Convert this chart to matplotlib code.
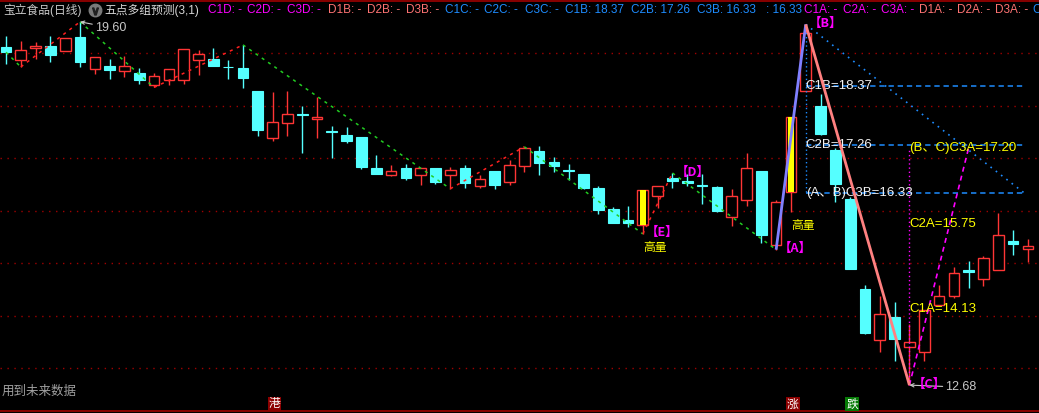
import numpy as np
import matplotlib.pyplot as plt
import matplotlib.transforms as mtransforms
from matplotlib.patches import Rectangle

plt.rcParams['font.family'] = ['Liberation Sans', 'Noto Sans CJK SC', 'DejaVu Sans']

# daily bars
opens = [19.12, 18.88, 19.11, 19.14, 19.05, 19.31, 18.71, 18.76, 18.67, 18.62,
         18.40, 18.50, 18.50, 18.88, 18.89, 18.74, 18.72, 18.28, 17.39, 17.68,
         17.84, 17.74, 17.52, 17.44, 17.41, 16.82, 16.69, 16.82, 16.69, 16.82,
         16.69, 16.82, 16.48, 16.76, 16.55, 16.86, 17.14, 16.93, 16.78, 16.70,
         16.43, 16.03, 15.82, 15.73, 16.28, 16.62, 16.56, 16.49, 16.45, 15.89,
         16.20, 16.76, 15.35, 16.35, 18.29, 18.00, 17.16, 16.22, 14.51, 13.53,
         13.97, 13.40, 13.31, 14.20, 14.37, 14.88, 14.71, 14.87, 15.42, 15.27]
closes = [19.02, 19.06, 19.14, 18.97, 19.29, 18.83, 18.93, 18.68, 18.76, 18.49,
          18.57, 18.70, 19.08, 18.99, 18.76, 18.73, 18.53, 17.54, 17.69, 17.84,
          17.83, 17.78, 17.51, 17.33, 16.83, 16.71, 16.75, 16.63, 16.82, 16.55,
          16.78, 16.53, 16.60, 16.50, 16.87, 17.19, 16.92, 16.86, 16.76, 16.44,
          16.02, 15.77, 15.77, 16.39, 16.47, 16.57, 16.53, 16.47, 15.99, 16.28,
          16.81, 15.53, 16.16, 17.78, 19.38, 17.46, 16.52, 14.89, 13.67, 14.03,
          13.56, 13.51, 14.11, 14.37, 14.82, 14.83, 15.10, 15.54, 15.37, 15.33]
highs = [19.33, 19.23, 19.21, 19.33, 19.30, 19.60, 18.93, 18.89, 18.95, 18.72,
         18.62, 18.71, 19.08, 19.06, 19.10, 18.87, 19.16, 18.28, 18.26, 18.28,
         17.99, 18.17, 17.61, 17.60, 17.41, 17.06, 16.87, 16.89, 16.82, 16.82,
         16.83, 16.87, 16.68, 16.76, 16.97, 17.22, 17.23, 17.02, 16.89, 16.70,
         16.47, 16.07, 16.09, 16.40, 16.48, 16.72, 16.70, 16.71, 16.48, 16.42,
         17.10, 16.76, 16.21, 17.78, 19.55, 18.22, 17.19, 16.26, 14.59, 14.38,
         14.27, 13.84, 14.11, 14.59, 14.93, 15.04, 15.14, 15.96, 15.63, 15.46]
lows = [18.80, 18.74, 18.89, 18.84, 19.04, 18.73, 18.61, 18.51, 18.55, 18.42,
        18.35, 18.40, 18.42, 18.59, 18.76, 18.51, 18.34, 17.42, 17.33, 17.43,
        17.11, 17.39, 17.01, 17.30, 16.80, 16.71, 16.66, 16.59, 16.50, 16.51,
        16.42, 16.44, 16.44, 16.42, 16.50, 16.73, 16.68, 16.73, 16.59, 16.41,
        15.94, 15.76, 15.70, 15.56, 16.06, 16.44, 16.47, 16.13, 15.98, 15.72,
        16.10, 15.39, 15.26, 15.97, 18.29, 17.44, 16.16, 14.89, 13.65, 13.32,
        13.13, 12.68, 13.13, 14.20, 14.33, 14.53, 14.57, 14.87, 15.16, 15.03]

big_volume = [43, 53]

# zigzag pivots (first point is the close, then alternating lows/highs)
zz_idx = [0, 1, 5, 10, 16, 30, 35, 43, 45, 52]
zz_kind = ['c', 'L', 'H', 'L', 'H', 'L', 'H', 'L', 'H', 'L']

# five point marks
pt_names = ['【E】', '【D】', '【A】', '【B】', '【C】']
pt_idx = [43, 45, 52, 54, 61]
pt_kind = ['L', 'H', 'L', 'H', 'L']

# projections
fib_b_names = ['C1B', 'C2B', '(A、B)C3B']
fib_b = [18.37, 17.26, 16.33]
fib_a_names = ['C1A', 'C2A', '(B、C)C3A']
fib_a = [14.13, 15.75, 17.20]

grid_levels = [13, 14, 15, 16, 17, 18, 19]

signal_idx = [18, 53, 57]
signal_text = ['港', '涨', '跌']
signal_bg = ['#8c0000', '#8c0000', '#067a06']

MAG = '#ff00ff'
SALMON = '#ff7373'
BLUE = '#1e8cff'

header = [
    ('五点多组预测(3,1)', '#d8d8d8', 104),
    ('C1D: -', MAG, 208), ('C2D: -', MAG, 247), ('C3D: -', MAG, 287),
    ('D1B: -', SALMON, 328), ('D2B: -', SALMON, 367), ('D3B: -', SALMON, 406),
    ('C1C: -', BLUE, 445), ('C2C: -', BLUE, 484), ('C3C: -', BLUE, 525),
    ('C1B: %.2f' % fib_b[0], BLUE, 565), ('C2B: %.2f' % fib_b[1], BLUE, 631),
    ('C3B: %.2f' % fib_b[2], BLUE, 697), (': %.2f' % fib_b[2], BLUE, 766),
    ('C1A: -', MAG, 804), ('C2A: -', MAG, 843), ('C3A: -', MAG, 881),
    ('D1A: -', SALMON, 919), ('D2A: -', SALMON, 957), ('D3A: -', SALMON, 995),
    ('C', BLUE, 1032),
]

W, H = 1039, 413


def val(i, kind):
    if kind == 'H':
        return highs[i]
    if kind == 'L':
        return lows[i]
    return closes[i]


fig = plt.figure(figsize=(W / 100, H / 100), dpi=100, facecolor='black')
ax = fig.add_axes([0, 0, 1, 1])
ax.set_facecolor('black')
ax.set_xlim(-0.405, 69.75)
ax.set_ylim(12.149, 20.015)
ax.axis('off')

# grid
for g in grid_levels:
    ax.axhline(g, color='#a00000', ls=(0, (1, 4)), lw=1, zorder=1)
ax.plot([0, 1], [1 - 1 / H] * 2, color='#a00000', lw=1.2, transform=ax.transAxes)
ax.plot([0, 1], [1 - 411 / H] * 2, color='#a00000', lw=1.2, transform=ax.transAxes)

# candles
w = 0.72
for i in range(len(opens)):
    o, c, hi, lo = opens[i], closes[i], highs[i], lows[i]
    top, bot = max(o, c), min(o, c)
    if c >= o:
        col = '#ff3535'
        ax.add_patch(Rectangle((i - w / 2, bot), w, top - bot, facecolor='black',
                               edgecolor=col, lw=1.0, zorder=3))
        if i in big_volume:
            ax.add_patch(Rectangle((i - 0.2, bot), 0.4, top - bot, facecolor='#ffff00',
                                   edgecolor='none', zorder=3.5))
    else:
        col = '#55ffff'
        ax.add_patch(Rectangle((i - w / 2, bot), w, top - bot, facecolor=col,
                               edgecolor=col, lw=0.8, zorder=3))
    ax.vlines(i, top, hi, color=col, lw=1, zorder=2.9)
    ax.vlines(i, lo, bot, color=col, lw=1, zorder=2.9)

# zigzag
for a, b in zip(range(len(zz_idx) - 1), range(1, len(zz_idx))):
    y0 = val(zz_idx[a], zz_kind[a])
    y1 = val(zz_idx[b], zz_kind[b])
    ax.plot([zz_idx[a], zz_idx[b]], [y0, y1], color='#ff2020' if y1 > y0 else '#22cc22',
            ls=(0, (2, 3)), lw=1.1, zorder=4)

# projection lines
b_i, c_i = pt_idx[3], pt_idx[4]
proj_end = 68.8
c3a_x = 65
for v in fib_b:
    ax.plot([b_i, proj_end], [v, v], color=BLUE, ls=(0, (3.5, 2.5)), lw=1.1, zorder=4)
ax.plot([b_i, proj_end], [highs[b_i], fib_b[2]], color=BLUE, ls=(0, (1, 3)), lw=1.2, zorder=4)
ax.plot([b_i, b_i], [highs[b_i], fib_b[2]], color=BLUE, ls=(0, (1, 2)), lw=1, zorder=4)
ax.plot([c_i, c_i], [lows[c_i], fib_a[2]], color=MAG, ls=(0, (1, 2)), lw=1, zorder=4)
ax.plot([c_i, c3a_x], [lows[c_i], fib_a[2]], color=MAG, ls=(0, (3, 2.5)), lw=1.2, zorder=4)

for n, v in zip(fib_b_names, fib_b):
    ax.text(b_i, v, '%s=%.2f' % (n, v), color='#f2f2f2', fontsize=9.5,
            ha='left', va='center', zorder=5)
for n, v in zip(fib_a_names, fib_a):
    ax.text(c_i, v, '%s=%.2f' % (n, v), color='#ffff00', fontsize=9.5,
            ha='left', va='center', zorder=5)

# A-B-C legs
a_i = pt_idx[2]
ax.plot([a_i, b_i], [lows[a_i], highs[b_i]], color='#8080ff', lw=2.0, zorder=6,
        solid_capstyle='butt')
ax.plot([b_i, c_i], [highs[b_i], lows[c_i]], color='#ff8080', lw=2.0, zorder=6,
        solid_capstyle='butt')

# point marks
for n, i, k in zip(pt_names, pt_idx, pt_kind):
    ax.annotate(n, (i, val(i, k)), xytext=(3, 1), textcoords='offset pixels',
                color=MAG, fontsize=9, fontweight='bold', ha='left', va='center',
                family=['Noto Sans CJK SC'], zorder=7)

for i in big_volume:
    ax.annotate('高量', (i, lows[i]), xytext=(0, -7), textcoords='offset pixels',
                color='#ffff00', fontsize=8.5, ha='left', va='top',
                family=['Noto Sans CJK SC'], zorder=7)

# extreme labels
i_hi = int(np.argmax(highs))
i_lo = int(np.argmin(lows))
ax.annotate('%.2f' % highs[i_hi], (i_hi, highs[i_hi]), xytext=(15, -6),
            textcoords='offset pixels', color='#c8c8c8', fontsize=9, ha='left', va='center',
            arrowprops=dict(arrowstyle='->', color='#c8c8c8', lw=0.8,
                            shrinkA=0, shrinkB=0, mutation_scale=6), zorder=7)
ax.annotate('%.2f' % lows[i_lo], (i_lo, lows[i_lo]), xytext=(36, -2),
            textcoords='offset pixels', color='#c8c8c8', fontsize=9, ha='left', va='center',
            arrowprops=dict(arrowstyle='->', color='#c8c8c8', lw=0.8,
                            shrinkA=0, shrinkB=0, mutation_scale=6), zorder=6.5)

# signals at bottom
trans = mtransforms.blended_transform_factory(ax.transData, ax.transAxes)
for i, t, bg in zip(signal_idx, signal_text, signal_bg):
    ax.annotate(t, (i, 1 - 404 / H), xycoords=trans, xytext=(2, 0),
                textcoords='offset pixels', color='white', fontsize=8.5,
                ha='center', va='center', family=['Noto Sans CJK SC'],
                bbox=dict(boxstyle='square,pad=0.08', fc=bg, ec='none'))

ax.text(2 / W, 1 - 391 / H, '用到未来数据', color='#a0a0a0', fontsize=9,
        ha='left', va='center', transform=ax.transAxes, family=['Noto Sans CJK SC'])

# header
ty = 1 - 10 / H
ax.text(3 / W, ty, '宝立食品(日线)', color='#c8c8c8', fontsize=8.5,
        ha='left', va='center', transform=ax.transAxes)
ax.plot([95 / W], [ty], 'o', ms=9, color='#7a7a7a', transform=ax.transAxes, clip_on=False)
ax.plot([95 / W], [ty - 0.002], marker=r'$\vee$', ms=5, color='#202020',
        transform=ax.transAxes, clip_on=False)
for t, col, xp in header:
    ax.text(xp / W, ty, t, color=col, fontsize=8.5, ha='left', va='center',
            transform=ax.transAxes)

fig.savefig('out.png', dpi=100, facecolor='black')
